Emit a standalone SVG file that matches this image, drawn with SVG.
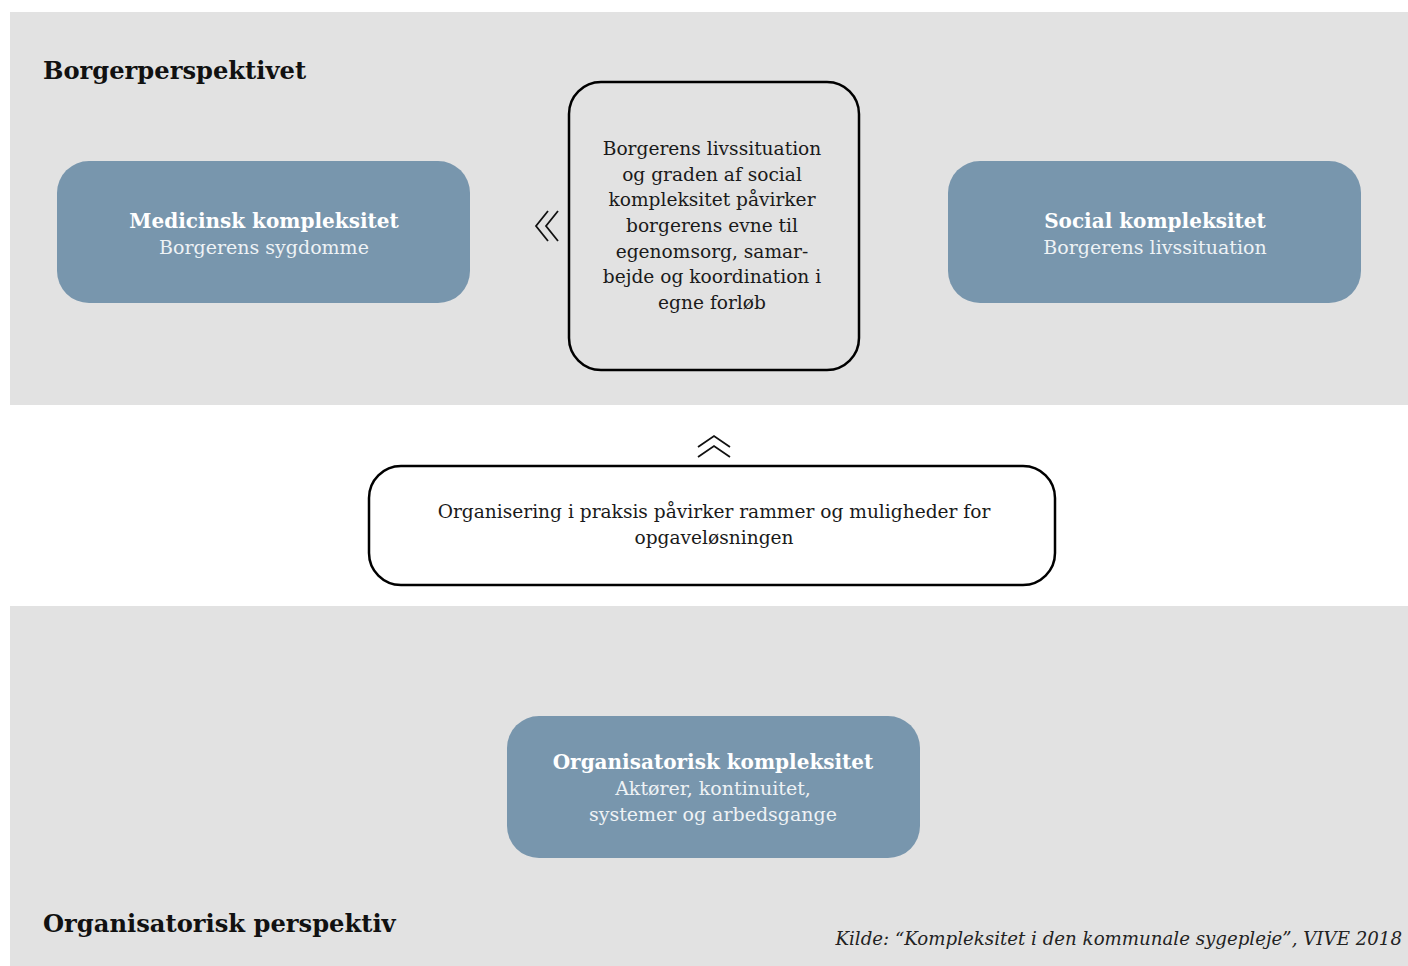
<svg xmlns="http://www.w3.org/2000/svg" width="1408" height="966" viewBox="0 0 1408 966">
<style>
.band{fill:#e2e2e2}
.blue{fill:#7896ad}
.outline{fill:none;stroke:#000;stroke-width:2.5}
.t{font-family:"DejaVu Serif","Liberation Serif",serif;text-anchor:middle}
.title{font-family:"DejaVu Serif","Liberation Serif",serif;font-weight:bold;font-size:24.2px;fill:#111}
.bt{font-weight:bold;font-size:20px;fill:#fff}
.st{font-size:19px;fill:#eef2f5}
.body{font-size:18.6px;fill:#1a1a1a}
.chev{fill:none;stroke:#111;stroke-width:1.8}
</style>
<rect class="band" x="10" y="12" width="1398" height="393"/>
<rect class="band" x="10" y="606" width="1398" height="360"/>
<text class="title" x="43" y="79">Borgerperspektivet</text>
<text class="title" x="43" y="932">Organisatorisk perspektiv</text>
<text x="1402" y="945" font-family="DejaVu Serif, Liberation Serif, serif" font-style="italic" font-size="18.2" fill="#222" text-anchor="end">Kilde: “Kompleksitet i den kommunale sygepleje”, VIVE 2018</text>
<g id="medicinsk">
<rect class="blue" x="57" y="161" width="413" height="142" rx="32"/>
<text class="t bt" x="264" y="228">Medicinsk kompleksitet</text>
<text class="t st" x="264" y="254">Borgerens sygdomme</text>
</g>
<g id="social">
<rect class="blue" x="948" y="161" width="413" height="142" rx="32"/>
<text class="t bt" x="1155" y="228">Social kompleksitet</text>
<text class="t st" x="1155" y="254">Borgerens livssituation</text>
</g>
<g id="borger">
<rect class="outline" x="569" y="82" width="290" height="288" rx="32"/>
<text class="t body" x="712" y="155">Borgerens livssituation</text>
<text class="t body" x="712" y="181">og graden af social</text>
<text class="t body" x="712" y="206">kompleksitet påvirker</text>
<text class="t body" x="712" y="232">borgerens evne til</text>
<text class="t body" x="712" y="258">egenomsorg, samar-</text>
<text class="t body" x="712" y="283">bejde og koordination i</text>
<text class="t body" x="712" y="309">egne forløb</text>
</g>
<g id="organisering">
<rect x="369" y="466" width="686" height="119" rx="32" fill="#fff" stroke="#000" stroke-width="2.5"/>
<text class="t body" x="714" y="518">Organisering i praksis påvirker rammer og muligheder for</text>
<text class="t body" x="714" y="544">opgaveløsningen</text>
</g>
<g id="organisatorisk">
<rect class="blue" x="507" y="716" width="413" height="142" rx="32"/>
<text class="t bt" x="713" y="769">Organisatorisk kompleksitet</text>
<text class="t st" x="713" y="795">Aktører, kontinuitet,</text>
<text class="t st" x="713" y="821">systemer og arbedsgange</text>
</g>
<g id="connectors">
<polyline class="chev" points="548,211 536,226 548,241"/>
<polyline class="chev" points="558,211 546,226 558,241"/>
<polyline class="chev" points="698,447 714,436 730,447"/>
<polyline class="chev" points="698,457 714,446 730,457"/>
</g>
</svg>
